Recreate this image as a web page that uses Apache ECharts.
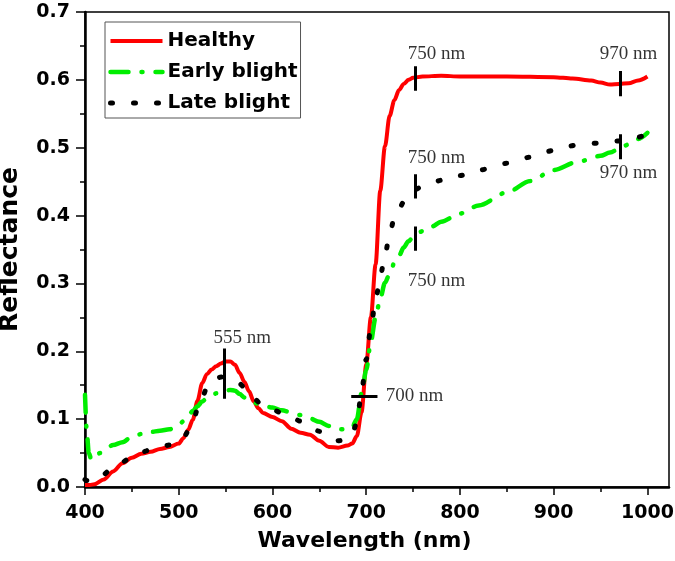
<!DOCTYPE html>
<html><head><meta charset="utf-8">
<script src="https://cdn.jsdelivr.net/npm/echarts@6/dist/echarts.min.js"></script>
<style>html,body{margin:0;padding:0;background:#fff}#c{width:675px;height:561px}</style>
</head><body><div id="c"></div>
<script>
var seriesNames = ['Healthy', 'Early blight', 'Late blight'];

var healthyWl = [400,405,410,420,430,440,450,460,470,480,490,500,505,510,515,520,525,530,535,540,545,550,555,560,565,570,575,580,585,590,600,610,620,630,640,650,660,670,680,685,690,695,700,705,710,715,720,725,730,735,740,745,750,760,780,800,850,900,920,940,950,960,970,980,990,1000];
var healthyRefl = [0.003,0.003,0.004,0.011,0.023,0.035,0.043,0.049,0.052,0.056,0.059,0.064,0.072,0.084,0.099,0.127,0.153,0.166,0.173,0.178,0.182,0.185,0.185,0.180,0.168,0.155,0.141,0.126,0.116,0.109,0.103,0.097,0.086,0.080,0.077,0.068,0.059,0.058,0.061,0.064,0.075,0.110,0.180,0.250,0.328,0.437,0.502,0.547,0.570,0.585,0.594,0.600,0.603,0.605,0.606,0.605,0.605,0.604,0.602,0.599,0.596,0.593,0.594,0.595,0.599,0.605];

var earlyWl = [400,402,404,407,410,416,420,430,440,450,460,470,480,490,500,505,510,515,520,525,530,535,540,545,550,555,560,565,570,575,580,590,600,610,620,630,640,650,660,670,680,685,690,695,700,705,710,715,720,725,730,735,740,745,750,760,770,780,800,820,850,875,900,925,950,960,975,990,1000];
var earlyRefl = [0.136,0.080,0.050,0.040,0.044,0.050,0.054,0.062,0.066,0.074,0.078,0.081,0.083,0.085,0.091,0.097,0.105,0.112,0.119,0.126,0.131,0.135,0.138,0.141,0.142,0.143,0.142,0.137,0.132,0.128,0.124,0.120,0.117,0.113,0.110,0.106,0.101,0.096,0.090,0.085,0.085,0.088,0.100,0.138,0.172,0.215,0.250,0.278,0.301,0.314,0.330,0.341,0.353,0.362,0.368,0.377,0.384,0.391,0.403,0.415,0.434,0.451,0.467,0.479,0.488,0.493,0.503,0.513,0.522];

var lateWl = [400,405,410,420,430,440,450,460,470,480,490,500,505,510,515,520,525,530,535,540,545,550,555,560,565,570,575,580,590,600,610,620,630,640,650,660,670,680,685,690,695,700,705,710,715,720,725,730,735,740,745,750,760,770,780,800,820,850,875,900,925,950,970,985,1000];
var lateRefl = [0.011,0.008,0.010,0.019,0.030,0.037,0.045,0.051,0.055,0.058,0.062,0.066,0.072,0.082,0.095,0.114,0.132,0.146,0.156,0.160,0.162,0.161,0.159,0.156,0.152,0.147,0.138,0.130,0.120,0.114,0.109,0.103,0.097,0.090,0.082,0.074,0.068,0.071,0.078,0.095,0.140,0.188,0.235,0.276,0.310,0.342,0.372,0.397,0.410,0.420,0.431,0.437,0.443,0.448,0.452,0.459,0.467,0.477,0.486,0.496,0.504,0.507,0.510,0.514,0.520];

var xTickLabels = [400,500,600,700,800,900,1000];
var xMinorTicks = [450,550,650,750,850,950];

// annotation marker segments [x1,y1,x2,y2] in data units
var markerSegments = [
  [549,0.130,549,0.204],
  [684,0.134,712,0.134],
  [752.5,0.584,752.5,0.620],
  [970.5,0.576,970.5,0.613],
  [752.5,0.425,752.5,0.461],
  [970.5,0.483,970.5,0.520],
  [752.5,0.348,752.5,0.384]
];
// annotation texts [text, x, y, align]
var markerLabels = [
  ['555 nm',567.7,0.219,'center'],
  ['700 nm',720.8,0.1336,'left'],
  ['750 nm',774.9,0.6386,'center'],
  ['970 nm',979.9,0.6386,'center'],
  ['750 nm',774.9,0.4853,'center'],
  ['970 nm',979.9,0.4631,'center'],
  ['750 nm',774.9,0.303,'center']
];

function zip(a,b){return a.map(function(v,i){return [v,b[i]];});}

var chart = echarts.init(document.getElementById('c'), null, {renderer:'canvas'});
var boldFont = 'DejaVu Sans';
var option = {
  animation:false,
  backgroundColor:'#fff',
  grid:{left:85,right:6,top:12,bottom:74,show:true,borderColor:'#000',borderWidth:1.5,backgroundColor:'transparent',containLabel:false,outerBoundsMode:'none'},
  legend:{
    orient:'vertical',left:105,top:22,padding:[7,3,3,3],itemGap:7,
    itemWidth:52,itemHeight:14,
    borderColor:'#555',borderWidth:1,
    itemStyle:{opacity:0},
    lineStyle:{width:'inherit',type:'inherit',cap:'inherit'},
    data:seriesNames,
    textStyle:{fontFamily:boldFont,fontWeight:'bold',fontSize:20,color:'#000',lineHeight:24}
  },
  xAxis:[{
    type:'value',min:400,max:1023,
    name:'Wavelength (nm)',nameLocation:'middle',nameGap:43,
    nameTextStyle:{fontFamily:boldFont,fontWeight:'bold',fontSize:22,color:'#000',padding:[0,25,0,0]},
    axisLine:{onZero:false,lineStyle:{color:'#000',width:2.5}},
    axisTick:{show:true,length:8,lineStyle:{color:'#000',width:1.5},customValues:xTickLabels},
    axisLabel:{customValues:xTickLabels,margin:17,fontFamily:boldFont,fontWeight:'bold',fontSize:19,color:'#000',formatter:function(v){return String(v);}},
    splitLine:{show:false}
  },{
    type:'value',min:400,max:1023,position:'bottom',
    axisLine:{show:false,onZero:false},
    axisTick:{show:true,length:5,lineStyle:{color:'#000',width:1.5},customValues:xMinorTicks},
    axisLabel:{show:false},
    splitLine:{show:false}
  }],
  yAxis:{
    type:'value',min:0,max:0.7,interval:0.1,
    name:'Reflectance',nameLocation:'middle',nameGap:62,nameRotate:90,
    nameTextStyle:{fontFamily:boldFont,fontWeight:'bold',fontSize:25,color:'#000'},
    axisLine:{show:true,onZero:false,lineStyle:{color:'#000',width:2.5}},
    axisTick:{show:true,length:9,lineStyle:{color:'#000',width:1.5}},
    minorTick:{show:true,splitNumber:2,length:5,lineStyle:{color:'#000',width:1.5}},
    axisLabel:{margin:15,fontFamily:boldFont,fontWeight:'bold',fontSize:19,color:'#000',formatter:function(v){return v.toFixed(1);}},
    splitLine:{show:false}
  },
  series:[
    {name:seriesNames[0],type:'line',data:zip(healthyWl,healthyRefl),showSymbol:false,symbol:'none',smooth:0.3,smoothMonotone:'x',
      itemStyle:{color:'#ff0000'},lineStyle:{color:'#ff0000',width:4},z:3},
    {name:seriesNames[1],type:'line',data:zip(earlyWl,earlyRefl),showSymbol:false,symbol:'none',smooth:0.3,smoothMonotone:'x',
      itemStyle:{color:'#00ee00'},lineStyle:{color:'#00ee00',width:4.5,type:[18,13,1,13],cap:'round'},z:4},
    {name:seriesNames[2],type:'line',data:zip(lateWl,lateRefl),showSymbol:false,symbol:'none',smooth:0.3,smoothMonotone:'x',
      itemStyle:{color:'#000'},lineStyle:{color:'#000',width:5,type:[2,21],cap:'round'},z:5},
    {type:'lines',coordinateSystem:'cartesian2d',polyline:false,silent:true,z:6,
      lineStyle:{color:'#000',width:3,opacity:1},
      data:markerSegments.map(function(s){return {coords:[[s[0],s[1]],[s[2],s[3]]]};})},
    {type:'scatter',symbolSize:0,silent:true,z:7,
      data:markerLabels.map(function(m){return {value:[m[1],m[2]],name:m[0],label:{align:m[3]}};}),
      label:{show:true,position:'inside',formatter:'{b}',fontFamily:'Liberation Serif',fontSize:19,color:'#000'}}
  ]
};
chart.setOption(option);
</script></body></html>
